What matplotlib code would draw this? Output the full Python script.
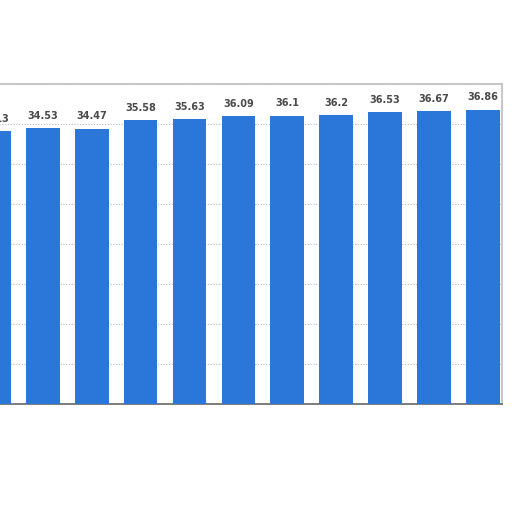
import matplotlib.pyplot as plt
import numpy as np

# values (first bar is cut by the left edge)
categories = ["1", "2", "3", "4", "5", "6", "7", "8", "9", "10", "11"]
values = [34.13, 34.53, 34.47, 35.58, 35.63, 36.09, 36.1, 36.2, 36.53, 36.67, 36.86]
yticks = [0, 5, 10, 15, 20, 25, 30, 35, 40]

fig = plt.figure(figsize=(5.12, 5.12), dpi=100)
# axes run past the left edge of the picture, like the cropped reference
ax = fig.add_axes([-0.0596, 0.211, 1.041, 0.624])

x = np.arange(len(values))
ax.bar(x, values, width=0.69, color="#2b76d9", zorder=3)

for xi, v in zip(x, values):
    ax.text(xi, v + 0.9, "{:g}".format(v), ha="center", va="bottom",
            fontsize=7, fontweight="bold", color="#4a4a4a", zorder=4)

ax.set_xlim(-0.5, len(values) - 0.6)
ax.set_ylim(0, 40)
ax.set_yticks(yticks)
ax.set_xticks(x)
ax.set_xticklabels([])
ax.set_yticklabels([])
ax.tick_params(length=0)
ax.grid(axis="y", linestyle=(0, (1, 1.5)), color="#bbbbbb", linewidth=0.8, zorder=0)

for side in ["top", "right", "left"]:
    ax.spines[side].set_color("#c8c8c8")
    ax.spines[side].set_linewidth(1.5)
ax.spines["bottom"].set_color("#666666")
ax.spines["bottom"].set_linewidth(1.2)

fig.savefig("out.png", dpi=100)
